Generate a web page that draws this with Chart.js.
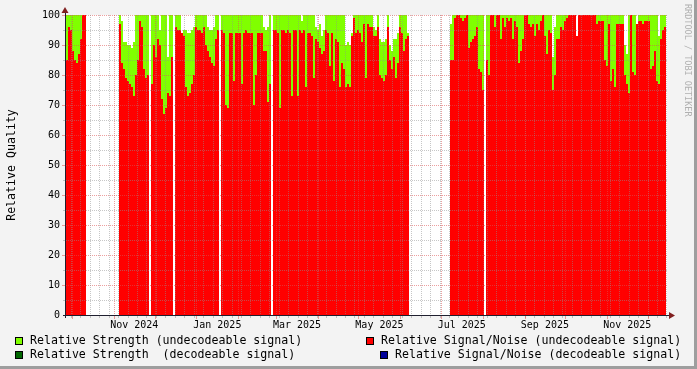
<!DOCTYPE html>
<html>
<head>
<meta charset="utf-8">
<script src="https://cdn.jsdelivr.net/npm/chart.js@4/dist/chart.umd.min.js"></script>
<style>
    body { margin: 0; background: #f3f3f3; }
    #wrap { width: 697px; height: 369px; }
</style>
</head>
<body>
<div id="wrap"><canvas id="chart" width="697" height="369"></canvas></div>
<script>
// x values are days since 2024-11-01, one sample every stepDays
const stepDays = 1.4807

const seg1Start = -34.80
const seg1Snr      = [85, 96, 95, 88, 85, 84, 87, 92, 100, 100]
const seg1Strength = [100, 100, 100, 100, 100, 100, 100, 100, 100, 100]

const seg2Start = 4.44
const seg2Snr = [
    97, 84, 82, 79, 78, 77, 76, 73, 80, 85,
    98, 96, 82, 79, 80, null, 77, 90, 86, 92,
    90, 72, 67, 69, 74, 73, 86, null, 96, 95,
    95, 94, 93, 76, 73, 74, 77, 80, 96, 95,
    95, 94, 96, 90, 88, 86, 84, 83, 92, 95,
    null, 95, 94, 70, 69, 94, 94, 78, 94, 94,
    94, 77, 94, 95, 94, 94, 94, 70, 80, 94,
    94, 94, 88, 88, 71, 77, null, 95, 95, 94,
    69, 95, 95, 94, 95, 94, 73, 95, 95, 73,
    95, 94, 95, 76, 94, 94, 93, 79, 92, 91,
    89, 87, 88, 95, 94, 83, 94, 78, 92, 91,
    76, 84, 82, 76, 77, 76, 93, 99, 94, 95,
    94, 91, 97, 79, 97, 96, 96, 93, 93, 96,
    80, 79, 78, 80, 96, 85, 82, 86, 79, 84,
    96, 94, 88, 92, 93
]
const seg2Strength = [
    100, 98, 91, 91, 90, 90, 89, 91, 100, 100,
    100, 100, 100, 100, 100, null, 100, 100, 100, 100,
    95, 100, 100, 100, 86, 100, 100, null, 100, 100,
    100, 94, 95, 95, 94, 94, 95, 96, 100, 100,
    100, 100, 100, 100, 96, 95, 95, 96, 100, 100,
    null, 100, 100, 100, 100, 100, 100, 100, 100, 100,
    100, 100, 100, 100, 100, 100, 100, 100, 100, 100,
    100, 100, 96, 95, 96, 100, null, 100, 100, 100,
    100, 100, 100, 100, 100, 100, 100, 100, 100, 100,
    100, 98, 100, 100, 100, 100, 100, 100, 96, 95,
    97, 93, 95, 100, 100, 100, 100, 100, 100, 100,
    100, 100, 100, 90, 91, 90, 94, 100, 100, 100,
    100, 100, 100, 100, 100, 100, 100, 96, 95, 100,
    92, 91, 91, 92, 100, 90, 88, 92, 92, 94,
    100, 100, 100, 100, 94
]

const seg3Start = 249.5
const seg3Snr = [
    85, 85, 99, 100, 100, 99, 98, 99, 100, 89,
    91, 92, 93, 96, 82, 81, 75, null, 85, 80,
    100, 100, 96, 100, 100, 92, 99, 96, 99, 98,
    99, 92, 98, 96, 84, 88, 92, 100, 100, 97,
    96, 97, 93, 97, 95, 98, 100, 93, 87, 95,
    94, 75, 80, 92, 92, 96, 95, 98, 99, 100,
    100, 100, 100, 93, 100, 100, 100, 100, 100, 100,
    100, 100, 100, 97, 98, 98, 98, 85, 83, 97,
    78, 82, 76, 97, 97, 97, 97, 80, 77, 74,
    100, 81, 80, 97, 98, 98, 97, 98, 98, 98,
    82, 83, 88, 78, 77, 92, 95, 96
]
const seg3Strength = [
    97, 100, 100, 100, 100, 100, 100, 100, 100, 100,
    100, 100, 100, 100, 100, 100, 100, null, 100, 100,
    100, 100, 100, 100, 100, 100, 100, 100, 100, 100,
    100, 100, 100, 100, 100, 100, 100, 100, 100, 100,
    100, 100, 100, 100, 100, 100, 100, 100, 100, 100,
    100, 86, 96, 100, 100, 100, 100, 100, 100, 100,
    100, 100, 100, 93, 100, 100, 100, 100, 100, 100,
    100, 100, 100, 100, 100, 100, 100, 100, 100, 100,
    100, 100, 100, 100, 100, 100, 100, 90, 87, 100,
    100, 100, 100, 97, 100, 100, 100, 100, 100, 100,
    100, 100, 100, 100, 93, 100, 100, 100
]

const monthLabels = ['Nov 2024', 'Jan 2025', 'Mar 2025', 'May 2025', 'Jul 2025', 'Sep 2025', 'Nov 2025']
const labelMonths = [[2024, 11], [2025, 1], [2025, 3], [2025, 5], [2025, 7], [2025, 9], [2025, 11]]

const xMin = -35.54
const xMax = 409.41

const legendLabels = [
    'Relative Signal/Noise (undecodeable signal)',
    'Relative Strength (undecodeable signal)',
    'Relative Strength  (decodeable signal)',
    'Relative Signal/Noise (decodeable signal)'
]
const legendColors = ['#ff0000', '#80ff00', '#006600', '#000099']

const monoFont = 'DejaVu Sans Mono'
const gridColor = 'rgba(143,143,143,0.5)'
const mgridColor = 'rgba(222,80,80,0.55)'
const axisColor = '#1f1f2f'
const arrowColor = '#801f1f'

function dayOf(year, month, d) {
    return (Date.UTC(year, month - 1, d) - Date.UTC(2024, 10, 1)) / 86400000
}

function toPoints(start, values) {
    return values.map((v, i) => ({ x: start + i * stepDays, y: v }))
}

const snrPoints = [...toPoints(seg1Start, seg1Snr), ...toPoints(seg2Start, seg2Snr), ...toPoints(seg3Start, seg3Snr)]
const strengthPoints = [...toPoints(seg1Start, seg1Strength), ...toPoints(seg2Start, seg2Strength), ...toPoints(seg3Start, seg3Strength)]

const labelDays = labelMonths.map(([yr, m]) => (dayOf(yr, m, 1) + dayOf(yr, m + 1, 1)) / 2)

const rrdLook = {
    id: 'rrdLook',
    beforeDraw(chart) {
        const { ctx, chartArea: a } = chart
        ctx.save()
        ctx.fillStyle = '#f3f3f3'
        ctx.fillRect(0, 0, chart.width, chart.height)
        ctx.fillStyle = '#ffffff'
        ctx.fillRect(a.left, a.top, a.right - a.left, a.bottom - a.top)
        ctx.restore()
    },
    afterDatasetsDraw(chart) {
        const { ctx, chartArea: a, scales: { x, y } } = chart
        const top = Math.round(a.top), bottom = Math.round(a.bottom)
        const left = Math.round(a.left), right = Math.round(a.right)
        ctx.save()
        const vLine = (px, color) => {
            ctx.fillStyle = color
            for (let yy = top; yy < bottom; yy += 2) ctx.fillRect(px, yy, 1, 1)
        }
        const hLine = (py, color) => {
            ctx.fillStyle = color
            for (let xx = left; xx < right; xx += 2) ctx.fillRect(xx, py, 1, 1)
        }
        // horizontal grid: minor every 5, major every 10
        for (let v = 5; v <= 100; v += 5) {
            const py = Math.round(y.getPixelForValue(v))
            const major = v % 10 === 0
            hLine(py, major ? mgridColor : gridColor)
            ctx.fillRect(left - (major ? 4 : 3), py, major ? 3 : 2, 1)
        }
        // weekly minor lines (Mondays)
        for (let d = dayOf(2024, 9, 30); d < xMax; d += 7) {
            if (d <= xMin) continue
            const px = Math.round(x.getPixelForValue(d))
            vLine(px, gridColor)
            ctx.fillRect(px, bottom + 1, 1, 2)
        }
        // month lines
        for (let i = 0; i < 16; i++) {
            const d = dayOf(2024, 10 + i, 1)
            if (d <= xMin || d >= xMax) continue
            const px = Math.round(x.getPixelForValue(d))
            vLine(px, mgridColor)
            ctx.fillRect(px, bottom + 1, 1, 3)
        }
        // axes
        ctx.fillStyle = axisColor
        ctx.fillRect(left - 3, bottom, right - left + 5, 1)
        ctx.fillRect(left - 1, top - 6, 1, bottom - top + 9)
        ctx.fillStyle = arrowColor
        ctx.beginPath()
        ctx.moveTo(right + 2, bottom - 3)
        ctx.lineTo(right + 2, bottom + 4)
        ctx.lineTo(right + 8, bottom + 0.5)
        ctx.closePath()
        ctx.fill()
        ctx.beginPath()
        ctx.moveTo(left - 4.5, top - 2)
        ctx.lineTo(left + 2.5, top - 2)
        ctx.lineTo(left - 1, top - 8)
        ctx.closePath()
        ctx.fill()
        ctx.restore()
    },
    afterDraw(chart) {
        const { ctx } = chart
        ctx.save()
        // legend, rrdtool style: left item left-justified, right item right-justified
        ctx.font = `11.6px "${monoFont}"`
        ctx.textBaseline = 'middle'
        const rows = [[1, 0, 341], [2, 3, 355]]
        rows.forEach(([li, ri, cy]) => {
            const drawItem = (idx, tx) => {
                const bx = tx - 15
                ctx.fillStyle = legendColors[idx]
                ctx.fillRect(bx, cy - 4, 8, 8)
                ctx.strokeStyle = '#000'
                ctx.lineWidth = 1
                ctx.strokeRect(bx + 0.5, cy - 3.5, 7, 7)
                ctx.fillStyle = '#000'
                ctx.fillText(legendLabels[idx], tx, cy)
            }
            drawItem(li, 30)
            const w = ctx.measureText(legendLabels[ri]).width
            drawItem(ri, Math.round(681 - w))
        })
        // watermark
        ctx.save()
        ctx.translate(687, 4)
        ctx.rotate(Math.PI / 2)
        ctx.font = `8.5px "${monoFont}"`
        ctx.fillStyle = '#b0b0b0'
        ctx.textBaseline = 'middle'
        ctx.fillText('RRDTOOL / TOBI OETIKER', 0, 0)
        ctx.restore()
        // frame
        ctx.fillStyle = '#9e9e9e'
        ctx.fillRect(0, chart.height - 3, chart.width, 3)
        ctx.fillRect(chart.width - 3, 0, 3, chart.height)
        ctx.restore()
    }
}

const chart = new Chart(document.getElementById('chart'), {
    type: 'bar',
    data: {
        datasets: [
            { label: legendLabels[0], data: snrPoints, backgroundColor: legendColors[0], order: 1 },
            { label: legendLabels[1], data: strengthPoints, backgroundColor: legendColors[1], order: 2 },
            { label: legendLabels[2], data: [], backgroundColor: legendColors[2], order: 3 },
            { label: legendLabels[3], data: [], backgroundColor: legendColors[3], order: 4 }
        ]
    },
    options: {
        responsive: false,
        animation: false,
        events: [],
        layout: { padding: { top: 15, right: 30, left: 0, bottom: 0 } },
        datasets: {
            bar: {
                grouped: false,
                barPercentage: 1,
                categoryPercentage: 1,
                borderWidth: 0,
                inflateAmount: 0
            }
        },
        plugins: {
            legend: { display: false },
            tooltip: { enabled: false }
        },
        scales: {
            x: {
                type: 'linear',
                offset: false,
                min: xMin,
                max: xMax,
                afterBuildTicks: scale => {
                    scale.ticks = labelDays.map(v => ({ value: v }))
                },
                afterFit: scale => { scale.height = 54 },
                ticks: {
                    autoSkip: false,
                    maxRotation: 0,
                    padding: 4,
                    color: '#000',
                    font: { family: monoFont, size: 10 },
                    callback: (value, index) => monthLabels[index]
                },
                grid: { display: false, drawTicks: false },
                border: { display: false }
            },
            y: {
                min: 0,
                max: 100,
                afterFit: scale => { scale.width = 66 },
                ticks: {
                    stepSize: 10,
                    padding: 6,
                    color: '#000',
                    font: { family: monoFont, size: 10 }
                },
                title: {
                    display: true,
                    text: 'Relative Quality',
                    color: '#000',
                    font: { family: monoFont, size: 11.6 },
                    padding: { top: 5, bottom: 0 }
                },
                grid: { display: false, drawTicks: false },
                border: { display: false }
            }
        }
    },
    plugins: [rrdLook]
})
</script>
</body>
</html>
